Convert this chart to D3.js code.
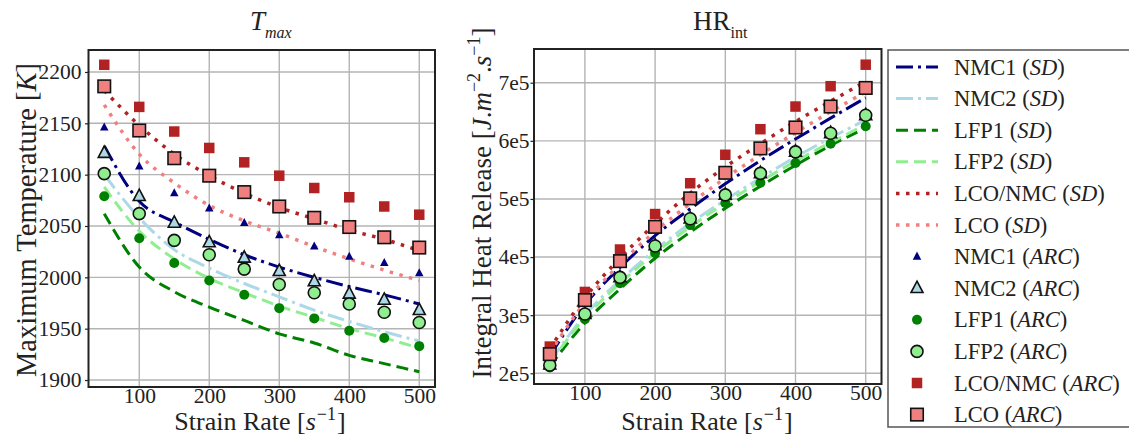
<!DOCTYPE html>
<html>
<head>
<meta charset="utf-8">
<script src="https://cdn.jsdelivr.net/npm/d3@7"></script>
<style>
  body { margin: 0; background: #fff; }
  svg text { font-family: "Liberation Serif", serif; fill: #222; }
</style>
</head>
<body>
<script>

// strain rates (x values shared by all series)
const strainRates = [50, 100, 150, 200, 250, 300, 350, 400, 450, 500];
const xTicks = [100, 200, 300, 400, 500];
const tmaxTicks = [1900, 1950, 2000, 2050, 2100, 2150, 2200];
const hrTicks = [2e5, 3e5, 4e5, 5e5, 6e5, 7e5];
const hrTickLabels = ["2e5", "3e5", "4e5", "5e5", "6e5", "7e5"];

// T_max, simulation (SD)
const tmaxNmc1SD   = [2128, 2074, 2054, 2037, 2022, 2010, 2000, 1991, 1983, 1974];
const tmaxNmc2SD   = [2100, 2058, 2027, 2009, 1994, 1981, 1968, 1957, 1947, 1938];
const tmaxLfp1SD   = [2062, 2010, 1986, 1971, 1958, 1945, 1936, 1924, 1916, 1908];
const tmaxLfp2SD   = [2088, 2045, 2018, 1999, 1985, 1972, 1961, 1950, 1941, 1931];
const tmaxLcoNmcSD = [2182, 2148, 2120, 2099, 2082, 2068, 2057, 2046, 2037, 2026];
const tmaxLcoSD    = [2168, 2120, 2092, 2070, 2055, 2043, 2030, 2018, 2007, 1997];

// T_max, experiment (ARC)
const tmaxNmc1ARC   = [2146, 2108, 2082, 2067, 2053, 2041, 2030, 2020, 2014, 2004];
const tmaxNmc2ARC   = [2121, 2079, 2053, 2034, 2019, 2006, 1996, 1984, 1978, 1968];
const tmaxLfp1ARC   = [2079, 2038, 2014, 1997, 1983, 1970, 1960, 1948, 1941, 1933];
const tmaxLfp2ARC   = [2101, 2062, 2036, 2022, 2008, 1993, 1985, 1974, 1966, 1956];
const tmaxLcoNmcARC = [2207, 2166, 2142, 2126, 2112, 2099, 2087, 2078, 2069, 2061];
const tmaxLcoARC    = [2186, 2143, 2116, 2099, 2083, 2069, 2058, 2049, 2039, 2029];

// HR_int, simulation (SD)
const hrNmc1SD   = [2.30e5, 3.18e5, 3.82e5, 4.37e5, 4.83e5, 5.26e5, 5.66e5, 6.03e5, 6.39e5, 6.74e5];
const hrNmc2SD   = [2.20e5, 3.00e5, 3.60e5, 4.12e5, 4.58e5, 4.98e5, 5.36e5, 5.72e5, 6.05e5, 6.36e5];
const hrLfp1SD   = [2.12e5, 2.87e5, 3.45e5, 3.98e5, 4.43e5, 4.84e5, 5.22e5, 5.58e5, 5.92e5, 6.22e5];
const hrLfp2SD   = [2.18e5, 2.95e5, 3.55e5, 4.07e5, 4.52e5, 4.93e5, 5.30e5, 5.65e5, 5.97e5, 6.28e5];
const hrLcoNmcSD = [2.42e5, 3.30e5, 3.98e5, 4.57e5, 5.10e5, 5.55e5, 5.95e5, 6.33e5, 6.68e5, 7.02e5];
const hrLcoSD    = [2.35e5, 3.22e5, 3.88e5, 4.44e5, 4.92e5, 5.36e5, 5.76e5, 6.14e5, 6.50e5, 6.84e5];

// HR_int, experiment (ARC)
const hrNmc1ARC   = [2.31e5, 3.24e5, 3.91e5, 4.50e5, 4.99e5, 5.43e5, 5.86e5, 6.22e5, 6.57e5, 6.89e5];
const hrNmc2ARC   = [2.15e5, 3.02e5, 3.65e5, 4.20e5, 4.66e5, 5.07e5, 5.44e5, 5.81e5, 6.13e5, 6.44e5];
const hrLfp1ARC   = [2.10e5, 2.93e5, 3.55e5, 4.07e5, 4.55e5, 4.93e5, 5.28e5, 5.62e5, 5.95e5, 6.25e5];
const hrLfp2ARC   = [2.14e5, 3.02e5, 3.65e5, 4.19e5, 4.66e5, 5.07e5, 5.44e5, 5.81e5, 6.13e5, 6.44e5];
const hrLcoNmcARC = [2.46e5, 3.40e5, 4.13e5, 4.74e5, 5.27e5, 5.76e5, 6.20e5, 6.59e5, 6.94e5, 7.31e5];
const hrLcoARC    = [2.33e5, 3.26e5, 3.93e5, 4.52e5, 5.01e5, 5.45e5, 5.87e5, 6.23e5, 6.59e5, 6.91e5];

// line series styles
const lineSeries = [
	{ name: "NMC1", color: "#000080", dash: "17,5,3,5", width: 3 },
	{ name: "NMC2", color: "#add8e6", dash: "17,5,3,5", width: 3 },
	{ name: "LFP1", color: "#008000", dash: "12,6", width: 3 },
	{ name: "LFP2", color: "#90ee90", dash: "12,6", width: 3 },
	{ name: "LCO/NMC", color: "#b22222", dash: "3.5,6.5", width: 3.5 },
	{ name: "LCO", color: "#f08080", dash: "3.5,6.5", width: 3.5 }
];

// marker series styles
const markerSeries = [
	{ name: "NMC1", shape: "tri", fill: "#000080", stroke: "none", size: 8.5 },
	{ name: "NMC2", shape: "tri", fill: "#add8e6", stroke: "#111", size: 12 },
	{ name: "LFP1", shape: "circ", fill: "#008000", stroke: "none", size: 10 },
	{ name: "LFP2", shape: "circ", fill: "#90ee90", stroke: "#111", size: 12 },
	{ name: "LCO/NMC", shape: "sq", fill: "#b22222", stroke: "none", size: 10.5 },
	{ name: "LCO", shape: "sq", fill: "#f08080", stroke: "#111", size: 12.5 }
];

const tmaxSD = [tmaxNmc1SD, tmaxNmc2SD, tmaxLfp1SD, tmaxLfp2SD, tmaxLcoNmcSD, tmaxLcoSD];
const tmaxARC = [tmaxNmc1ARC, tmaxNmc2ARC, tmaxLfp1ARC, tmaxLfp2ARC, tmaxLcoNmcARC, tmaxLcoARC];
const hrSD = [hrNmc1SD, hrNmc2SD, hrLfp1SD, hrLfp2SD, hrLcoNmcSD, hrLcoSD];
const hrARC = [hrNmc1ARC, hrNmc2ARC, hrLfp1ARC, hrLfp2ARC, hrLcoNmcARC, hrLcoARC];


const width = 1129;
const height = 436;

var svg = d3.select("body").append("svg")
	.attr("width", width)
	.attr("height", height);


// draws a marker of a given style centred on the current group
function drawMarker(g, m) {
	var s = m.size;
	var el;
	if (m.shape == "tri") {
		var h = s * 0.95;
		el = g.append("path").attr("d", `M0,${-h * 0.62}L${s / 2},${h * 0.38}L${-s / 2},${h * 0.38}Z`);
	} else if (m.shape == "circ") {
		el = g.append("circle").attr("r", s / 2);
	} else {
		el = g.append("rect").attr("x", -s / 2).attr("y", -s / 2).attr("width", s).attr("height", s);
	}
	el.attr("fill", m.fill)
		.attr("stroke", m.stroke)
		.attr("stroke-width", m.stroke == "none" ? 0 : 1.6);
}


function drawPanel(opts) {
	var p = opts.box;
	var g = svg.append("g").attr("transform", `translate(${p.x},${p.y})`);

	var xScale = d3.scaleLinear().domain([27.5, 522.5]).range([0, p.w]);
	var yScale = d3.scaleLinear().domain(opts.yDomain).range([p.h, 0]);

	// grid
	g.append("g").selectAll("line.gx").data(xTicks).enter().append("line")
		.attr("x1", d => xScale(d)).attr("x2", d => xScale(d))
		.attr("y1", 0).attr("y2", p.h)
		.attr("stroke", "#b4b4b4").attr("stroke-width", 1.4);
	g.append("g").selectAll("line.gy").data(opts.yTicks).enter().append("line")
		.attr("x1", 0).attr("x2", p.w)
		.attr("y1", d => yScale(d)).attr("y2", d => yScale(d))
		.attr("stroke", "#b4b4b4").attr("stroke-width", 1.4);

	// axes
	var xAxis = d3.axisBottom(xScale).tickValues(xTicks).tickSize(0).tickPadding(1);
	var xg = g.append("g").attr("transform", `translate(0,${p.h})`).call(xAxis);
	var yAxis = d3.axisLeft(yScale).tickValues(opts.yTicks).tickSize(3.5).tickPadding(opts.yPad)
		.tickFormat((d, i) => opts.yLabels ? opts.yLabels[i] : d);
	var yg = g.append("g").call(yAxis);
	[xg, yg].forEach(function(a) {
		a.select(".domain").remove();
		a.selectAll("line").attr("stroke", "#222").attr("stroke-width", 1.2);
		a.selectAll("text").attr("font-size", 21.5).attr("fill", "#222")
			.attr("font-family", "Liberation Serif, serif");
	});

	var clipId = "clip" + opts.id;
	g.append("clipPath").attr("id", clipId).append("rect")
		.attr("width", p.w).attr("height", p.h);

	var plot = g.append("g").attr("clip-path", `url(#${clipId})`);

	// simulation lines
	var line = d3.line()
		.x((d, i) => xScale(strainRates[i]))
		.y(d => yScale(d))
		.curve(d3.curveMonotoneX);
	opts.sd.forEach(function(vals, k) {
		var s = lineSeries[k];
		plot.append("path").datum(vals)
			.attr("d", line)
			.attr("fill", "none")
			.attr("stroke", s.color)
			.attr("stroke-width", s.width)
			.attr("stroke-dasharray", s.dash);
	});

	// experiment markers
	opts.arc.forEach(function(vals, k) {
		var m = markerSeries[k];
		plot.append("g").selectAll("g").data(vals).enter().append("g")
			.attr("transform", (d, i) => `translate(${xScale(strainRates[i])},${yScale(d)})`)
			.each(function() { drawMarker(d3.select(this), m); });
	});

	// frame
	g.append("rect").attr("width", p.w).attr("height", p.h)
		.attr("fill", "none").attr("stroke", "#222").attr("stroke-width", 2);
}


drawPanel({
	id: "T",
	box: { x: 88.5, y: 50, w: 346.5, h: 337 },
	yDomain: [1893.2, 2221.4],
	yTicks: tmaxTicks,
	yPad: 3.5,
	sd: tmaxSD,
	arc: tmaxARC
});

drawPanel({
	id: "HR",
	box: { x: 534, y: 49, w: 347.5, h: 335 },
	yDomain: [1.816e5, 7.58e5],
	yTicks: hrTicks,
	yLabels: hrTickLabels,
	yPad: 1,
	sd: hrSD,
	arc: hrARC
});


// titles
var t1 = svg.append("text").attr("x", 250).attr("y", 30).attr("font-size", 27);
t1.append("tspan").attr("font-style", "italic").text("T");
t1.append("tspan").attr("font-style", "italic").attr("font-size", 16).attr("dy", 8).text("max");

var t2 = svg.append("text").attr("x", 693).attr("y", 30).attr("font-size", 27);
t2.append("tspan").text("HR");
t2.append("tspan").attr("font-size", 16).attr("dy", 8).text("int");


// axis labels
function strainLabel(x) {
	var t = svg.append("text").attr("x", x).attr("y", 430)
		.attr("text-anchor", "middle").attr("font-size", 26);
	t.append("tspan").text("Strain Rate [");
	t.append("tspan").attr("font-style", "italic").text("s");
	t.append("tspan").attr("font-size", 18).attr("dy", -10).attr("dx", 1).text("\u22121");
	t.append("tspan").attr("dy", 10).attr("dx", 1).text("]");
}
strainLabel(260);
strainLabel(707);

var yl1 = svg.append("text").attr("transform", "translate(36,220) rotate(-90)")
	.attr("text-anchor", "middle").attr("font-size", 28.5);
yl1.append("tspan").text("Maximum Temperature [");
yl1.append("tspan").attr("font-style", "italic").text("K");
yl1.append("tspan").text("]");

var yl2 = svg.append("text").attr("transform", "translate(491,203) rotate(-90)")
	.attr("text-anchor", "middle").attr("font-size", 27);
yl2.append("tspan").text("Integral Heat Release [");
yl2.append("tspan").attr("font-style", "italic").text("J");
yl2.append("tspan").text(".");
yl2.append("tspan").attr("font-style", "italic").text("m");
yl2.append("tspan").attr("font-size", 18).attr("dy", -11).text("\u22122");
yl2.append("tspan").attr("dy", 11).text(".");
yl2.append("tspan").attr("font-style", "italic").text("s");
yl2.append("tspan").attr("font-size", 18).attr("dy", -11).text("\u22121");
yl2.append("tspan").attr("dy", 11).text("]");


// legend
var legend = svg.append("g");
legend.append("rect").attr("x", 888).attr("y", 50).attr("width", 300).attr("height", 377)
	.attr("fill", "#fff").attr("stroke", "#555").attr("stroke-width", 1.5);

const rowStart = 67;
const rowStep = 31.6;

lineSeries.forEach(function(s, k) {
	var y = rowStart + k * rowStep;
	legend.append("line").attr("x1", 896).attr("x2", 938).attr("y1", y).attr("y2", y)
		.attr("stroke", s.color).attr("stroke-width", s.width).attr("stroke-dasharray", s.dash);
	var t = legend.append("text").attr("x", 954).attr("y", y + 7.5).attr("font-size", 22.5);
	t.append("tspan").text(s.name + " (");
	t.append("tspan").attr("font-style", "italic").text("SD");
	t.append("tspan").text(")");
});

markerSeries.forEach(function(m, k) {
	var y = rowStart + (k + 6) * rowStep;
	var mg = legend.append("g").attr("transform", `translate(917,${y})`);
	drawMarker(mg, m);
	var t = legend.append("text").attr("x", 954).attr("y", y + 7.5).attr("font-size", 22.5);
	t.append("tspan").text(m.name + " (");
	t.append("tspan").attr("font-style", "italic").text("ARC");
	t.append("tspan").text(")");
});

</script>
</body>
</html>
